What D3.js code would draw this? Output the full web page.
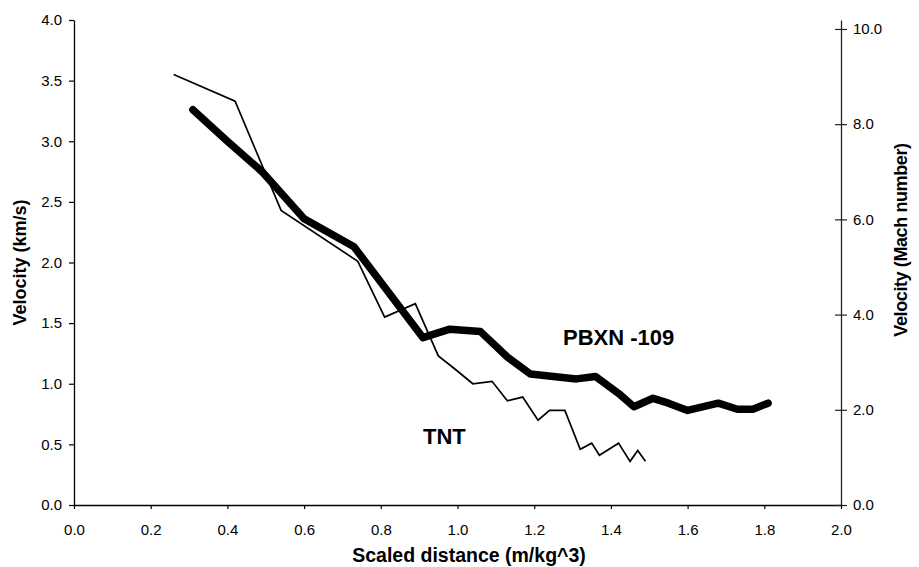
<!DOCTYPE html>
<html>
  <head>
    <meta charset="utf-8" />
    <title>Velocity vs scaled distance</title>
    <style>
      body { margin: 0; background: #fff; }
      svg text { font-family: "Liberation Sans", Arial, Helvetica, sans-serif; fill: #000; }
      .tick text { font-size: 15px; }
      .axis-title { font-size: 18px; font-weight: bold; }
      .series-label { font-size: 22px; font-weight: bold; }
    </style>
  </head>
  <body>
    <svg width="919" height="567"></svg>

    <script type="text/javascript" src="https://d3js.org/d3.v7.min.js"></script>
    <script type="text/javascript">
      // data
      const pbxnDist = [0.31, 0.40, 0.49, 0.60, 0.73, 0.91, 0.98, 1.06, 1.13, 1.19, 1.25, 1.31, 1.36, 1.42, 1.46, 1.51, 1.55, 1.60, 1.68, 1.73, 1.77, 1.81];
      const pbxnVel  = [3.26, 3.00, 2.75, 2.36, 2.13, 1.38, 1.45, 1.43, 1.22, 1.08, 1.06, 1.04, 1.06, 0.92, 0.81, 0.88, 0.84, 0.78, 0.84, 0.79, 0.79, 0.84];

      const tntDist = [0.26, 0.42, 0.54, 0.74, 0.81, 0.89, 0.95, 0.99, 1.04, 1.09, 1.13, 1.17, 1.21, 1.24, 1.28, 1.32, 1.35, 1.37, 1.42, 1.45, 1.47, 1.49];
      const tntVel  = [3.55, 3.33, 2.43, 2.01, 1.55, 1.66, 1.23, 1.13, 1.00, 1.02, 0.86, 0.89, 0.70, 0.78, 0.78, 0.46, 0.51, 0.41, 0.51, 0.36, 0.45, 0.36];

      const xTicks = [0, 0.2, 0.4, 0.6, 0.8, 1.0, 1.2, 1.4, 1.6, 1.8, 2.0];
      const yTicks = [0, 0.5, 1.0, 1.5, 2.0, 2.5, 3.0, 3.5, 4.0];
      const machTicks = [0, 2, 4, 6, 8, 10];
      const soundSpeed = 0.3926; // km/s per Mach used by the right axis

      const svg = d3.select('svg');
      const plot = { left: 74, right: 841, top: 20, bottom: 505 };

      const x = d3.scaleLinear().domain([0, 2]).range([plot.left, plot.right]);
      const y = d3.scaleLinear().domain([0, 4]).range([plot.bottom, plot.top]);
      const yMach = d3.scaleLinear().domain([0, 4 / soundSpeed]).range([plot.bottom, plot.top]);

      // x axis
      const gx = svg.append('g')
        .attr('transform', `translate(0,${plot.bottom})`)
        .call(d3.axisBottom(x).tickValues(xTicks).tickFormat(d3.format('.1f')).tickSizeInner(4).tickSizeOuter(0).tickPadding(15));
      gx.select('.domain').attr('stroke', '#000').attr('stroke-width', 1.3);

      // left axis
      const gy = svg.append('g')
        .attr('transform', `translate(${plot.left},0)`)
        .call(d3.axisLeft(y).tickValues(yTicks).tickFormat(d3.format('.1f')).tickSizeInner(5).tickSizeOuter(0).tickPadding(7));
      gy.select('.domain').attr('stroke', '#000').attr('stroke-width', 1.3);

      // right axis (Mach number), ticks cross the line
      const gm = svg.append('g')
        .attr('transform', `translate(${plot.right},0)`)
        .call(d3.axisRight(yMach).tickValues(machTicks).tickFormat(d3.format('.1f')).tickSizeInner(6).tickSizeOuter(0).tickPadding(6));
      gm.select('.domain').attr('stroke', '#222').attr('stroke-width', 1.3);
      gm.selectAll('.tick line').attr('x1', -6).attr('stroke', '#222');

      svg.selectAll('.tick line').attr('stroke-width', 1.2);

      // series
      const line = d3.line().x(d => x(d[0])).y(d => y(d[1]));

      svg.append('path')
        .datum(d3.zip(tntDist, tntVel))
        .attr('fill', 'none')
        .attr('stroke', '#000')
        .attr('stroke-width', 1.7)
        .attr('d', line);

      svg.append('path')
        .datum(d3.zip(pbxnDist, pbxnVel))
        .attr('fill', 'none')
        .attr('stroke', '#000')
        .attr('stroke-width', 7.5)
        .attr('stroke-linecap', 'round')
        .attr('stroke-linejoin', 'round')
        .attr('d', line);

      // series labels
      svg.append('text').attr('class', 'series-label')
        .attr('x', 563).attr('y', 345).text('PBXN -109');
      svg.append('text').attr('class', 'series-label')
        .attr('x', 423).attr('y', 444).text('TNT');

      // axis titles
      svg.append('text').attr('class', 'axis-title')
        .attr('x', 469).attr('y', 562)
        .attr('text-anchor', 'middle')
        .style('font-size', '19.5px')
        .text('Scaled distance (m/kg^3)');

      svg.append('text').attr('class', 'axis-title')
        .attr('transform', `translate(26,${(plot.top + plot.bottom) / 2}) rotate(-90)`)
        .attr('text-anchor', 'middle')
        .text('Velocity (km/s)');

      svg.append('text').attr('class', 'axis-title')
        .attr('transform', 'translate(907,240) rotate(-90)')
        .attr('text-anchor', 'middle')
        .style('letter-spacing', '-0.4px')
        .text('Velocity (Mach number)');
    </script>
  </body>
</html>
